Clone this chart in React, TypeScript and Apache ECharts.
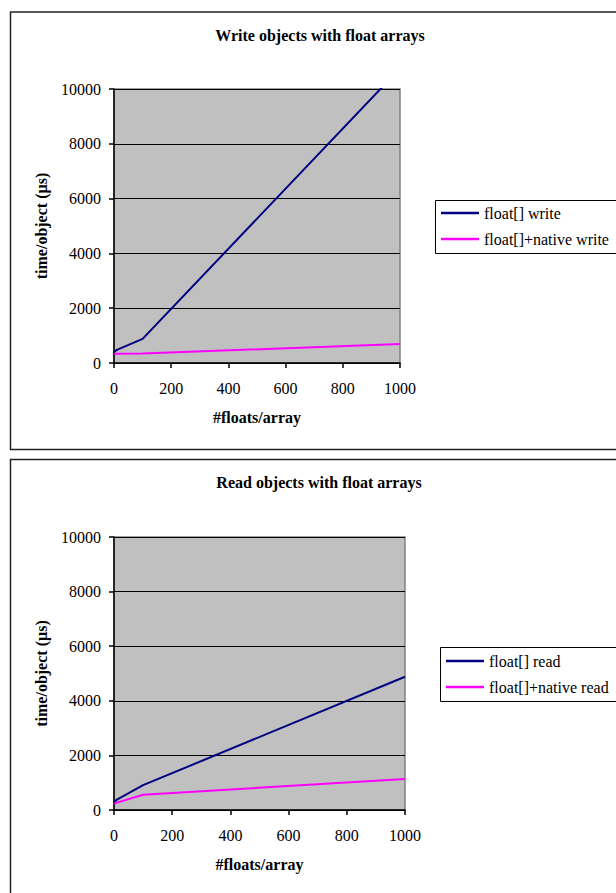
import React, { useEffect, useRef } from "react";
import * as echarts from "echarts";

const xValues = [1, 10, 100, 1000];
const writeFloat = [400, 480, 880, 10750];
const writeNative = [330, 335, 350, 690];
const readFloat = [300, 380, 910, 4880];
const readNative = [230, 270, 560, 1135];

const xTicks = { min: 0, max: 1000, interval: 200 };
const yTicks = { min: 0, max: 10000, interval: 2000 };

const titles = ["Write objects with float arrays", "Read objects with float arrays"];
const seriesNames = [
  ["float[] write", "float[]+native write"],
  ["float[] read", "float[]+native read"],
];

const FONT = "'Liberation Serif', 'Times New Roman', serif";
const BLUE = "#000080";
const MAGENTA = "#FF00FF";

const pairs = (ys: number[]) => xValues.map((x, i) => [x, ys[i]]);
const plain = (v: number) => String(v);

export default function App() {
  const ref = useRef<HTMLDivElement>(null);
  useEffect(() => {
    if (!ref.current) return;
    const chart = echarts.init(ref.current, undefined, { renderer: "svg" });
    const grids = [
      { left: 114, top: 89, width: 286, height: 274 },
      { left: 114, top: 537, width: 291, height: 273 },
    ];
    const mkX = (gi: number) => ({
      type: "value",
      gridIndex: gi,
      min: xTicks.min,
      max: xTicks.max,
      interval: xTicks.interval,
      name: "#floats/array",
      nameLocation: "middle",
      nameGap: 46,
      nameTextStyle: { fontFamily: FONT, fontSize: 16, fontWeight: "bold", color: "#000" },
      axisLine: { show: true, lineStyle: { color: "#000", width: 1.5 } },
      axisTick: { show: true, inside: false, length: 5, lineStyle: { color: "#000", width: 1.5 } },
      axisLabel: { fontFamily: FONT, fontSize: 16, color: "#000", margin: 17, formatter: plain },
      splitLine: { show: false },
    });
    const mkY = (gi: number) => ({
      type: "value",
      gridIndex: gi,
      min: yTicks.min,
      max: yTicks.max,
      interval: yTicks.interval,
      name: "time/object (µs)",
      nameLocation: "middle",
      nameGap: 65,
      nameTextStyle: { fontFamily: FONT, fontSize: 16, fontWeight: "bold", color: "#000" },
      axisLine: { show: true, lineStyle: { color: "#000", width: 1.5 } },
      axisTick: { show: true, inside: false, length: 5, lineStyle: { color: "#000", width: 1.5 } },
      axisLabel: { fontFamily: FONT, fontSize: 16, color: "#000", margin: 13, formatter: plain },
      splitLine: { show: true, lineStyle: { color: "#000", width: 1 } },
    });
    const mkSeries = (name: string, data: number[], color: string, gi: number) => ({
      type: "line",
      name,
      xAxisIndex: gi,
      yAxisIndex: gi,
      data: pairs(data),
      symbol: "none",
      clip: true,
      lineStyle: { color, width: 2 },
      itemStyle: { color },
    });
    const legendCommon = {
      orient: "vertical",
      icon: "rect",
      itemWidth: 38,
      itemHeight: 2.5,
      itemGap: 10,
      padding: 0,
      textStyle: { fontFamily: FONT, fontSize: 16, color: "#000" },
    };
    chart.setOption({
      animation: false,
      backgroundColor: "#fff",
      title: [
        {
          text: titles[0],
          left: 320,
          top: 27,
          textAlign: "center",
          padding: 0,
          textStyle: { fontFamily: FONT, fontSize: 16, fontWeight: "bold", color: "#000" },
        },
        {
          text: titles[1],
          left: 319,
          top: 474,
          textAlign: "center",
          padding: 0,
          textStyle: { fontFamily: FONT, fontSize: 16, fontWeight: "bold", color: "#000" },
        },
      ],
      grid: grids.map((g) => ({
        ...g,
        show: true,
        backgroundColor: "#C0C0C0",
        borderColor: "#808080",
        borderWidth: 1.5,
        containLabel: false,
      })),
      xAxis: [mkX(0), mkX(1)],
      yAxis: [mkY(0), mkY(1)],
      legend: [
        { ...legendCommon, left: 441, top: 205, data: seriesNames[0] },
        { ...legendCommon, left: 446, top: 653, data: seriesNames[1] },
      ],
      series: [
        mkSeries(seriesNames[0][0], writeFloat, BLUE, 0),
        mkSeries(seriesNames[0][1], writeNative, MAGENTA, 0),
        mkSeries(seriesNames[1][0], readFloat, BLUE, 1),
        mkSeries(seriesNames[1][1], readNative, MAGENTA, 1),
      ],
      graphic: [
        {
          type: "rect",
          silent: true,
          shape: { x: 10.5, y: 12, width: 700, height: 437.5 },
          style: { fill: "none", stroke: "#222", lineWidth: 1.5 },
        },
        {
          type: "rect",
          silent: true,
          shape: { x: 10.5, y: 459.5, width: 700, height: 500 },
          style: { fill: "none", stroke: "#222", lineWidth: 1.5 },
        },
        {
          type: "rect",
          silent: true,
          shape: { x: 435.5, y: 200.5, width: 300, height: 53 },
          style: { fill: "none", stroke: "#000", lineWidth: 1 },
        },
        {
          type: "rect",
          silent: true,
          shape: { x: 440.5, y: 647.5, width: 300, height: 54 },
          style: { fill: "none", stroke: "#000", lineWidth: 1 },
        },
      ],
    });
    return () => chart.dispose();
  }, []);
  return (
    <div
      ref={ref}
      style={{ position: "fixed", left: 0, top: 0, width: 616, height: 893 }}
    />
  );
}
